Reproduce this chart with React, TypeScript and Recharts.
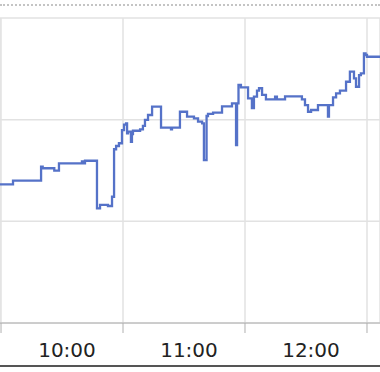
import { LineChart, Line, XAxis, YAxis, CartesianGrid } from 'recharts';

// minutes after 09:00
const times = [
  -0.5, 5.9, 19.7, 20.5, 26.2, 28.5, 39.8, 40.3, 41.3, 47.2,
  48.7, 52.6, 54.6, 55.6, 56.6, 58.0, 59.5, 60.5, 61.5, 62.0,
  62.5, 63.9, 64.4, 64.9, 68.4, 69.8, 70.8, 72.3, 74.3, 78.7,
  83.6, 84.1, 88.0, 91.5, 94.9, 96.9, 98.9, 99.8, 101.1, 101.8,
  104.3, 108.7, 113.6, 115.6, 116.1, 116.8, 118.0, 121.5, 123.4, 124.4,
  125.9, 126.9, 128.4, 130.3, 134.8, 135.7, 139.7, 148.0, 149.5, 151.0,
  152.5, 155.9, 160.8, 161.3, 163.3, 164.8, 166.7, 169.7, 171.6, 173.6,
  174.6, 176.1, 177.0, 178.5, 179.3, 180.0, 186.4,
];

const values = [
  113.64, 114.0, 115.37, 115.22, 114.98, 115.71, 115.9, 115.7, 115.96, 111.28,
  111.61, 111.51, 112.42, 117.09, 117.41, 117.68, 118.98, 119.52, 119.64, 118.66,
  118.82, 117.83, 118.59, 118.91, 119.05, 119.38, 119.97, 120.46, 121.28, 119.21,
  119.05, 119.21, 120.78, 120.29, 120.13, 119.8, 119.64, 116.03, 120.36, 120.56,
  120.69, 121.31, 121.61, 117.51, 121.61, 123.41, 123.18, 122.1, 121.15, 122.26,
  122.85, 123.09, 122.43, 122.0, 122.26, 122.0, 122.3, 122.0, 121.44, 120.78,
  120.95, 121.44, 120.31, 121.44, 122.2, 122.59, 122.85, 123.73, 124.72, 124.07,
  123.24, 124.39, 124.56, 126.53, 126.36, 126.19, 126.19,
];

const hourTicks = [0, 60, 120, 180];
const hourLabels = ['9:00', '10:00', '11:00', '12:00'];
const valueTicks = [100, 110, 120, 130];

const data = times.map((t, i) => ({ t, v: values[i] }));

const HourTick = (props: any) => {
  const { x, payload } = props;
  const label = hourLabels[hourTicks.indexOf(payload.value)];
  const lx = x - 56;
  if (lx < 30) return <g />; // label of the first hour falls outside the view
  return (
    <text x={lx} y={357} textAnchor="middle" fontFamily="DejaVu Sans" fontSize={20} fill="#222">
      {label}
    </text>
  );
};

export default function App() {
  return (
    <div style={{ position: 'absolute', left: 0, top: 0, width: 380, height: 372, background: '#fff', overflow: 'hidden' }}>
      <div style={{ position: 'absolute', left: 0, top: 4, width: 380, borderTop: '2px dotted #c4c4c4' }} />
      <LineChart width={380} height={372} data={data} margin={{ top: 18, right: 0, bottom: 0, left: 0 }}>
        <CartesianGrid stroke="#e2e2e2" strokeWidth={1.5} />
        <XAxis
          dataKey="t"
          type="number"
          domain={[-0.5, 186.4]}
          ticks={hourTicks}
          allowDataOverflow
          height={49}
          tickSize={10}
          stroke="#b0b0b0"
          tick={<HourTick />}
          interval={0}
        />
        <YAxis hide domain={[100, 130]} ticks={valueTicks} allowDataOverflow />
        <Line
          type="stepAfter"
          dataKey="v"
          stroke="#5572c8"
          strokeWidth={2.3}
          dot={false}
          isAnimationActive={false}
        />
      </LineChart>
      <div style={{ position: 'absolute', left: 0, top: 365, width: 380, borderTop: '2px solid #555' }} />
    </div>
  );
}
